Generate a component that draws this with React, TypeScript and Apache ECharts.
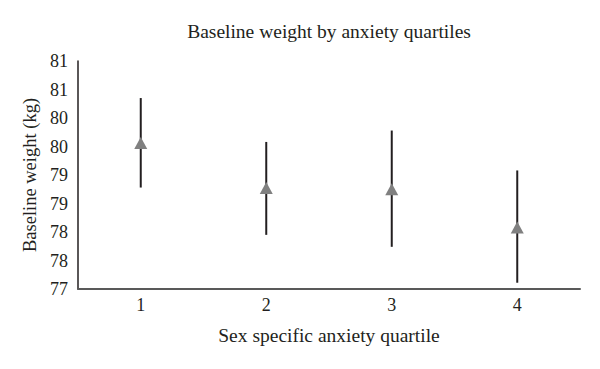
import React, { useEffect, useRef } from "react";
import * as echarts from "echarts";

const categories = ["1", "2", "3", "4"];
const means = [79.56, 78.77, 78.75, 78.08];
const upper = [80.35, 79.58, 79.78, 79.08];
const lower = [78.78, 77.95, 77.74, 77.11];
const yTicks = { min: 77, max: 81, interval: 0.5 };

const FONT = "'Liberation Serif', 'DejaVu Serif', serif";
const TEXT = "#231f20";

export default function App() {
  const ref = useRef<HTMLDivElement>(null);
  useEffect(() => {
    document.body.style.margin = "0";
    if (!ref.current) return;
    const chart = echarts.init(ref.current, null, { renderer: "svg" });
    const errData = categories.map((c, i) => [i, lower[i], upper[i]]);
    chart.setOption({
      animation: false,
      backgroundColor: "#ffffff",
      textStyle: { fontFamily: FONT, color: TEXT },
      graphic: [
        {
          type: "text",
          x: 329,
          y: 31,
          style: {
            text: "Baseline weight by anxiety quartiles",
            font: `19.5px ${FONT}`,
            fill: TEXT,
            textAlign: "center",
            textVerticalAlign: "middle",
          },
        },
      ],
      grid: { left: 78, right: 20, top: 61, bottom: 80, containLabel: false },
      xAxis: {
        type: "category",
        data: categories,
        boundaryGap: true,
        name: "Sex specific anxiety quartile",
        nameLocation: "middle",
        nameGap: 36,
        nameTextStyle: { fontFamily: FONT, fontSize: 19.5, color: TEXT },
        axisLine: { show: true, lineStyle: { color: "#595959", width: 2 } },
        axisTick: { show: false },
        axisLabel: { fontFamily: FONT, fontSize: 18, color: TEXT, margin: 7 },
        splitLine: { show: false },
      },
      yAxis: {
        type: "value",
        min: yTicks.min,
        max: yTicks.max,
        interval: yTicks.interval,
        name: "Baseline weight (kg)",
        nameLocation: "middle",
        nameGap: 35,
        nameRotate: 90,
        nameTextStyle: { fontFamily: FONT, fontSize: 18.5, color: TEXT },
        axisLine: { show: true, lineStyle: { color: TEXT, width: 1.5 } },
        axisTick: { show: false },
        axisLabel: {
          fontFamily: FONT,
          fontSize: 18,
          color: TEXT,
          margin: 10,
          formatter: (v: number) => String(Math.round(v)),
        },
        splitLine: { show: false },
      },
      series: [
        {
          type: "custom",
          data: errData,
          renderItem: (params: any, api: any) => {
            const x = api.value(0);
            const lo = api.coord([x, api.value(1)]);
            const hi = api.coord([x, api.value(2)]);
            return {
              type: "line",
              shape: { x1: lo[0], y1: lo[1], x2: hi[0], y2: hi[1] },
              style: { stroke: TEXT, lineWidth: 2 },
            };
          },
          z: 1,
        },
        {
          type: "scatter",
          data: means,
          symbol: "triangle",
          symbolSize: [13, 12],
          itemStyle: { color: "#808080", opacity: 1 },
          z: 2,
        },
      ],
    });
    return () => chart.dispose();
  }, []);
  return <div ref={ref} style={{ width: 600, height: 369 }} />;
}
